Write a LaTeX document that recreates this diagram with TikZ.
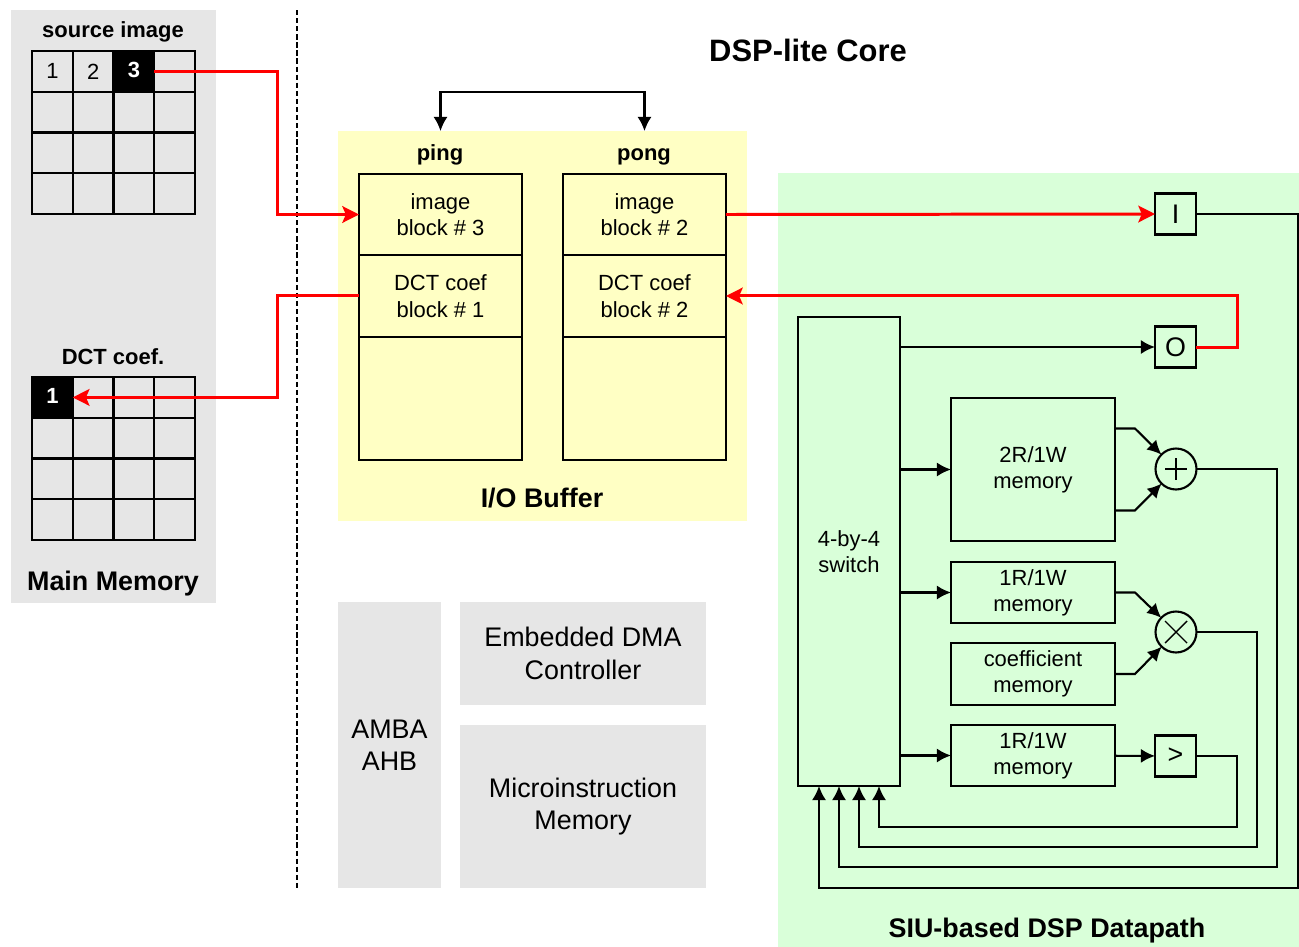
\documentclass[tikz,border=0pt]{standalone}
\usepackage{fontspec}
\setmainfont{Liberation Sans}
\usetikzlibrary{positioning, arrows.meta}

\definecolor{memgray}{HTML}{E6E6E6}
\definecolor{bufyellow}{HTML}{FFFFC4}
\definecolor{pathgreen}{HTML}{D9FFD9}
\definecolor{linkred}{HTML}{FF0000}

\begin{document}
\begin{tikzpicture}[
  x=0.02cm, y=-0.02cm,
  every node/.style = {align=center, inner sep=0pt, font=\fontsize{12.5}{15}\selectfont},
  panel/.style = {fill=#1, outer sep=0pt},
  tag/.style = {font=\fontsize{12.5}{15}\selectfont\bfseries, text height=9pt, text depth=2.6pt},
  heading/.style = {font=\fontsize{15.3}{18}\selectfont\bfseries, text height=11pt, text depth=3.2pt},
  bigtext/.style = {font=\fontsize{15.3}{18.5}\selectfont},
  cell/.style = {draw, line width=1.2pt, outer sep=0pt, minimum size=0.815cm},
  block/.style = {draw, line width=1.2pt, outer sep=0pt, minimum width=3.26cm},
  mem/.style = {draw, line width=1.2pt, outer sep=0pt, minimum width=3.28cm},
  reg/.style = {draw, line width=1.2pt, outer sep=0pt, minimum size=0.82cm, font=\fontsize{15.3}{18}\selectfont},
  op/.style = {draw, circle, line width=1.2pt, outer sep=0pt, minimum size=0.82cm},
  arrow/.style = {->, line width=1.2pt, >={Latex[length=8pt, width=8pt]}},
  redarrow/.style = {->, draw=linkred, line width=1.7pt, >={Stealth[length=9.5pt, width=9.5pt, inset=2pt]}},
  divider/.style = {line width=1.5pt, dash pattern=on 3pt off 1.6pt}
]
\useasboundingbox (0,0) rectangle (1299,947);

% --- Main memory
\node[panel=memgray, minimum width=4.1cm, minimum height=11.86cm] (mainmem) at (113.5,306.5) {};
\node[tag] (srclbl) at (113,32) {source image};
\node[tag] (dctlbl) at (113,359) {DCT coef.};
\node[heading] (mainmemlbl) at (113,584) {Main Memory};
\foreach \r in {0,...,3}
  \foreach \c in {0,...,3} {
    \node[cell] (src-\r-\c) at ({52.4+40.75*\c},{71.4+40.75*\r}) {};
    \node[cell] (dct-\r-\c) at ({52.4+40.75*\c},{397.4+40.75*\r}) {};
  }
\node (src1) at (src-0-0) {1};
\node (src2) at (src-0-1) {2};
\node[cell, fill=black, text=white, tag] (src3) at (src-0-2) {3};
\node[cell, fill=black, text=white, tag] (dct1) at (dct-0-0) {1};

% --- divider
\coordinate (divtop) at (297,10);
\coordinate (divbot) at (297,888);
\draw[divider] (divtop) -- (divbot);

\node[font=\fontsize{17.6}{20}\selectfont\bfseries] (corelbl) at (808,50) {DSP-lite Core};

% --- I/O buffer
\node[panel=bufyellow, minimum width=8.18cm, minimum height=7.8cm] (iobuf) at (542.5,326) {};
\node[heading] (iobuflbl) at (542,501) {I/O Buffer};
\node[block, minimum height=1.62cm] (pingimg) at (440.5,214.5) {image\\block \# 3};
\node[block, minimum height=1.64cm, below=0pt of pingimg] (pingdct) {DCT coef\\block \# 1};
\node[block, minimum height=2.46cm, below=0pt of pingdct] (pingfree) {};
\node[block, minimum height=1.62cm] (pongimg) at (644.5,214.5) {image\\block \# 2};
\node[block, minimum height=1.64cm, below=0pt of pongimg] (pongdct) {DCT coef\\block \# 2};
\node[block, minimum height=2.46cm, below=0pt of pongdct] (pongfree) {};
\node[tag] (pinglbl) at (440,155) {ping};
\node[tag] (ponglbl) at (644,155) {pong};
\draw[arrow, <->] (pingimg.north |- iobuf.north) -- ++(0,-39) -| (pongimg.north |- iobuf.north);

% --- AHB, DMA, microcode
\node[panel=memgray, bigtext, minimum width=2.06cm, minimum height=5.72cm] (ahb) at (389.5,745) {AMBA\\AHB};
\node[panel=memgray, bigtext, minimum width=4.92cm, minimum height=2.06cm] (dma) at (583,653.5) {Embedded DMA\\Controller};
\node[panel=memgray, bigtext, minimum width=4.92cm, minimum height=3.26cm] (ucode) at (583,806.5) {Microinstruction\\Memory};

% --- Datapath
\node[panel=pathgreen, minimum width=10.42cm, minimum height=15.48cm] (datapath) at (1038.5,560) {};
\node[heading] (datapathlbl) at (1047,931) {SIU-based DSP Datapath};
\node[reg] (inreg) at (1175.5,214) {I};
\node[reg] (outreg) at (1175.5,347) {O};
\node[draw, line width=1.2pt, outer sep=0pt, minimum width=2.04cm, minimum height=9.38cm] (switch) at (849,551.5) {4-by-4\\switch};
\node[mem, minimum height=2.86cm] (mem2r) at (1033,469.5) {2R/1W\\memory};
\node[mem, minimum height=1.22cm] (mem1a) at (1033,592.5) {1R/1W\\memory};
\node[mem, minimum height=1.24cm] (coefmem) at (1033,674) {coefficient\\memory};
\node[mem, minimum height=1.22cm] (mem1b) at (1033,755.5) {1R/1W\\memory};
\node[op] (add) at (1176,469) {};
\node[op] (mul) at (1176,632) {};
\node[reg] (cmp) at (1175.5,756) {>};
\draw[line width=0.8pt] (add.center) +(-11,0) -- +(11,0) +(0,-11) -- +(0,11);
\draw[line width=0.8pt] (mul.center) +(-11,-11) -- +(11,11) +(-11,11) -- +(11,-11);

\draw[arrow] (switch.east |- outreg) -- (outreg);
\draw[arrow] (switch.east |- mem2r) -- (mem2r);
\draw[arrow] (switch.east |- mem1a) -- (mem1a);
\draw[arrow] (switch.east |- mem1b) -- (mem1b);
\draw[arrow] ([yshift=0.82cm]mem2r.east) -- ++(20,0) -- (add);
\draw[arrow] ([yshift=-0.82cm]mem2r.east) -- ++(20,0) -- (add);
\draw[arrow] (mem1a.east) -- ++(20,0) -- (mul);
\draw[arrow] (coefmem.east) -- ++(20,0) -- (mul);
\draw[arrow] (mem1b) -- (cmp);
\foreach \src/\dx/\xr/\yb in {cmp/0.6/1237/827, mul/0.2/1257/847, add/-0.2/1277/867, inreg/-0.6/1298/888}
  \draw[arrow] (\src.east) -| (\xr,\yb) -| ([xshift=\dx cm]switch.south);

% --- block transfers
\draw[redarrow] (src3.east) -- ++(123,0) |- (pingimg.west);
\draw[redarrow] (pingdct.west) -- ++(-82,0) |- (dct1.east);
\draw[redarrow] (pongimg.east) -- (inreg.west);
\draw[redarrow] (outreg.east) -- ++(41,0) |- (pongdct.east);

\end{tikzpicture}
\end{document}
